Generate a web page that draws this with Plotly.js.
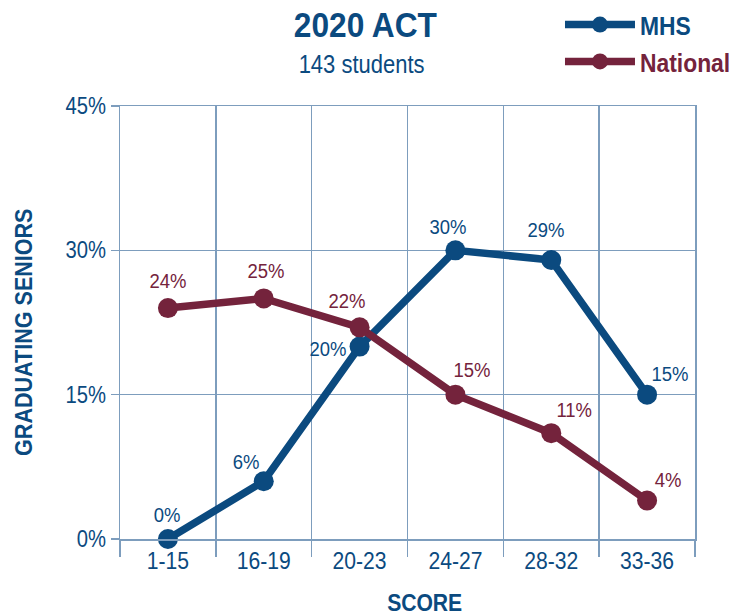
<!DOCTYPE html>
<html>
<head>
<meta charset="utf-8">
<script src="https://cdn.plot.ly/plotly-3.0.1.min.js"></script>
<style>
html,body{margin:0;padding:0;background:#fff;}
#chart{width:751px;height:615px;}
</style>
</head>
<body>
<div id="chart"></div>
<script>
const categories = ['1-15', '16-19', '20-23', '24-27', '28-32', '33-36'];
const mhsValues = [0, 6, 20, 30, 29, 15];
const nationalValues = [24, 25, 22, 15, 11, 4];
const yTickVals = [0, 15, 30, 45];
const yTickText = ['0%', '15%', '30%', '45%'];

// label placement (pixel offsets from each point) - styling only
const mhsLabelShiftX = [-1, -18, -32, -7, -5, 23];
const mhsLabelShiftY = [25, 20, -2, 24, 30, 21];
const natLabelShiftX = [0, 2, -13, 17, 23, 21];
const natLabelShiftY = [28, 28, 27, 25, 24, 21];

const BLUE = '#0b4a7f';
const MAROON = '#74233c';
const GRID = '#7d9dbd';
const FONT = '"Liberation Sans", Arial, sans-serif';
const NARROW = 0.88; // horizontal text compression to mimic a condensed face

const pct = v => v + '%';

const traces = [
  {
    x: categories, y: mhsValues, type: 'scatter', mode: 'lines+markers',
    name: '<b>MHS</b>',
    line: {color: BLUE, width: 7.5},
    marker: {color: BLUE, size: 20},
    cliponaxis: false, hoverinfo: 'skip'
  },
  {
    x: categories, y: nationalValues, type: 'scatter', mode: 'lines+markers',
    name: '<b><span style="color:' + MAROON + '">National</span></b>',
    line: {color: MAROON, width: 7.5},
    marker: {color: MAROON, size: 20},
    cliponaxis: false, hoverinfo: 'skip'
  }
];

function valueLabels(values, color, sx, sy) {
  return values.map(function (v, i) {
    return {
      x: categories[i], y: v, xref: 'x', yref: 'y',
      text: pct(v), showarrow: false,
      xanchor: 'center', yanchor: 'middle',
      xshift: sx[i], yshift: sy[i],
      font: {family: FONT, size: 21, color: color}
    };
  });
}

const layout = {
  width: 751, height: 615,
  margin: {l: 120, r: 56, t: 106, b: 76, autoexpand: false},
  paper_bgcolor: '#fff', plot_bgcolor: '#fff',
  font: {family: FONT, color: BLUE, size: 21},
  showlegend: true,
  legend: {
    x: 0.7652, xanchor: 'left', y: 1.242, yanchor: 'top',
    font: {family: FONT, size: 26, color: BLUE},
    itemwidth: 70,
    bgcolor: 'rgba(0,0,0,0)', tracegroupgap: 0
  },
  xaxis: {
    type: 'category', tickson: 'boundaries', range: [-0.5, 5.5],
    showgrid: true, gridcolor: GRID, gridwidth: 1.5,
    showline: true, mirror: true, linecolor: GRID, linewidth: 1.5,
    ticks: 'outside', ticklen: 16, tickcolor: GRID, tickwidth: 1.5,
    zeroline: false,
    tickfont: {family: FONT, size: 24, color: BLUE},
    fixedrange: true
  },
  yaxis: {
    range: [0, 45], tickvals: yTickVals, ticktext: yTickText,
    showgrid: true, gridcolor: GRID, gridwidth: 1.5,
    showline: true, mirror: true, linecolor: GRID, linewidth: 1.5,
    ticks: 'outside', ticklen: 8, tickcolor: GRID, tickwidth: 1.5,
    zeroline: false,
    tickfont: {family: FONT, size: 23, color: BLUE},
    fixedrange: true
  },
  annotations: [
    {text: '<b>2020 ACT</b>', xref: 'paper', yref: 'paper', x: 0.427, y: 1.188,
     xanchor: 'center', yanchor: 'middle', showarrow: false,
     font: {family: FONT, size: 36, color: BLUE}},
    {text: '143 students', xref: 'paper', yref: 'paper', x: 0.42, y: 1.096,
     xanchor: 'center', yanchor: 'middle', showarrow: false,
     font: {family: FONT, size: 25, color: BLUE}},
    {text: '<b>GRADUATING SENIORS</b>', xref: 'paper', yref: 'paper', x: -0.169, y: 0.478,
     xanchor: 'center', yanchor: 'middle', textangle: -90, showarrow: false,
     font: {family: FONT, size: 24.5, color: BLUE}},
    {text: '<b>SCORE</b>', xref: 'paper', yref: 'paper', x: 0.5296, y: -0.147,
     xanchor: 'center', yanchor: 'middle', showarrow: false,
     font: {family: FONT, size: 24, color: BLUE}}
  ].concat(
    valueLabels(mhsValues, BLUE, mhsLabelShiftX, mhsLabelShiftY),
    valueLabels(nationalValues, MAROON, natLabelShiftX, natLabelShiftY)
  )
};

function condenseText(gd) {
  gd.querySelectorAll('svg text').forEach(function (t) {
    if (t.getAttribute('data-narrow')) return;
    const x = parseFloat(t.getAttribute('x')) || 0;
    const prev = t.getAttribute('transform') || '';
    t.setAttribute('transform', prev + ' translate(' + x + ',0) scale(' + NARROW + ',1) translate(' + (-x) + ',0)');
    t.setAttribute('data-narrow', '1');
  });
}

Plotly.newPlot('chart', traces, layout, {displayModeBar: false, staticPlot: true})
  .then(function (gd) { condenseText(gd); });
</script>
</body>
</html>
